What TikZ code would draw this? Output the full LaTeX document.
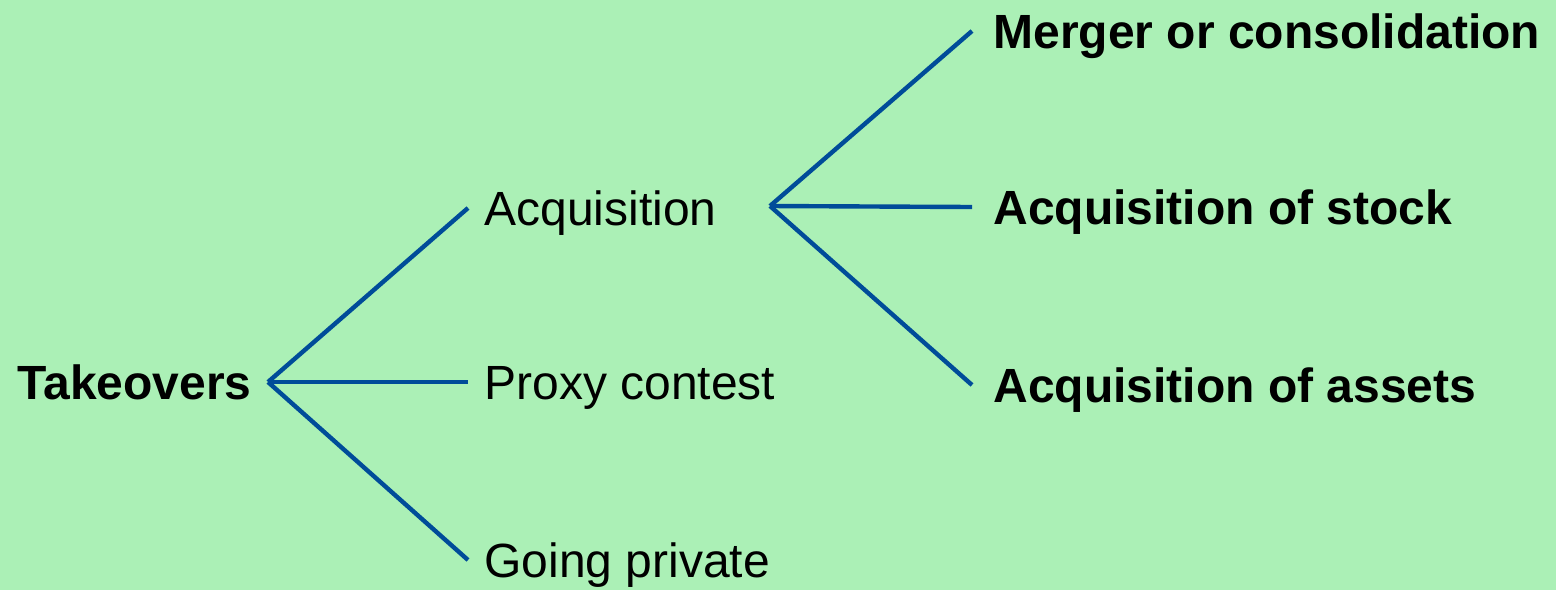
\documentclass[tikz,border=0pt]{standalone}
\usepackage{fontspec}
\setmainfont{Liberation Sans}
\usetikzlibrary{positioning}
\definecolor{Mint}{HTML}{ABF0B6}
\definecolor{Navy}{HTML}{004C99}

\begin{document}
\begin{tikzpicture}[x=0.5pt,y=-0.5pt,
    leaf/.style={font=\fontsize{24}{28}\selectfont,inner xsep=8pt,
      inner ysep=0pt,text height=17.3pt,text depth=0pt},
    boldleaf/.style={leaf,font=\fontsize{24}{28}\selectfont\bfseries,
      inner xsep=10.5pt},
    branch/.style={draw=Navy,line width=2.2pt}]
    \fill[Mint] (0,0) rectangle (1556,590);
    \useasboundingbox (0,0) rectangle (1556,590);
    % left level
    \node[boldleaf,anchor=east,inner xsep=8pt] (take) at (268,382) {Takeovers};
    \node[leaf,anchor=west] (acq) at (468,208) {Acquisition};
    \node[leaf,anchor=west] (proxy) at (468,382) {Proxy contest};
    \node[leaf,anchor=west] (priv) at (468,560) {Going private};
    % right level
    \coordinate (fork) at (770,206);
    \node[boldleaf,anchor=west] (merger) at (972,31) {Merger or consolidation};
    \node[boldleaf,anchor=west] (stock) at (972,207) {Acquisition of stock};
    \node[boldleaf,anchor=west] (assets) at (972,385) {Acquisition of assets};
    \foreach \a/\b in {take/acq,take/proxy,take/priv}
      \draw[branch] (\a.east) -- (\b.west);
    \foreach \b in {merger,stock,assets}
      \draw[branch] (fork) -- (\b.west);
  \end{tikzpicture}
\end{document}
